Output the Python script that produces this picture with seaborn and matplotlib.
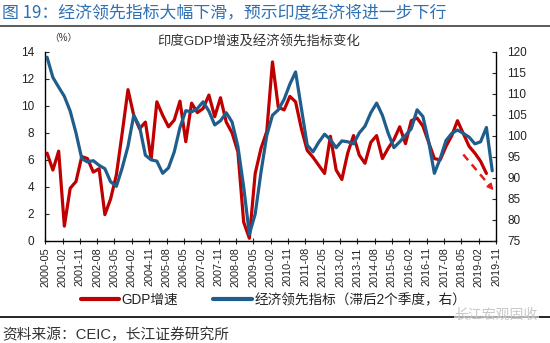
import matplotlib
matplotlib.use("Agg")
import matplotlib.pyplot as plt
import pandas as pd
import seaborn as sns
from matplotlib.lines import Line2D

# ---------------- data ----------------
gdp_growth = [6.5, 5.25, 6.65, 1.1, 3.9, 4.4, 6.25, 6.1, 5.1, 5.35,
              1.95, 3.1, 4.9, 8.0, 11.2, 9.3, 8.3, 8.8, 6.05, 10.3,
              9.3, 8.45, 8.95, 10.35, 7.35, 10.2, 9.5, 9.8, 10.8, 9.2,
              10.6, 8.8, 8.0, 6.6, 1.4, 0.2, 5.0, 6.85, 8.1, 13.25,
              9.9, 9.7, 10.7, 10.3, 8.3, 6.7, 6.2, 5.6, 5.0, 7.75,
              5.25, 4.55, 6.5, 7.8, 6.35, 5.75, 7.3, 7.8, 6.1, 6.85,
              7.5, 8.45, 7.2, 8.9, 9.1, 8.5, 7.3, 6.1, 6.0, 7.0,
              7.8, 8.9, 7.95, 7.0, 6.5, 5.9, 5.0]
leading_index = [118.7, 113.9, 111.6, 109.4, 105.9, 100.7, 94.6, 93.8, 94.1, 93.0,
                 92.2, 89.1, 88.0, 92.4, 97.5, 104.9, 102.2, 95.4, 94.3, 94.0,
                 91.1, 92.4, 96.2, 102.0, 106.0, 105.7, 106.5, 108.1, 105.9, 102.6,
                 103.6, 105.5, 103.3, 97.5, 87.9, 76.6, 81.4, 91.4, 100.1, 104.9,
                 106.2, 108.7, 112.3, 115.2, 106.5, 97.8, 96.2, 98.5, 100.4, 99.1,
                 97.2, 98.8, 98.6, 98.1, 100.7, 102.3, 105.5, 107.8, 104.9, 100.7,
                 97.2, 98.6, 100.1, 101.7, 106.2, 104.6, 98.6, 91.1, 94.6, 98.9,
                 100.6, 101.4, 100.6, 99.7, 98.1, 98.6, 102.0, 91.7]
first_obs = "2000-06-01"
tick_labels = ["2000-05", "2001-02", "2001-11", "2002-08", "2003-05", "2004-02",
               "2004-11", "2005-08", "2006-05", "2007-02", "2007-11", "2008-08",
               "2009-05", "2010-02", "2010-11", "2011-08", "2012-05", "2013-02",
               "2013-11", "2014-08", "2015-05", "2016-02", "2016-11", "2017-08",
               "2018-05", "2019-02", "2019-11"]
left_ticks = [0, 2, 4, 6, 8, 10, 12, 14]
right_ticks = [75, 80, 85, 90, 95, 100, 105, 110, 115, 120]
arrow_from = ("2018-06-01", 6.4)
arrow_to = ("2019-10-20", 3.6)

RED = "#C00000"
BLUE = "#1F5E8C"
TITLE_BLUE = "#2F70B5"

# ---------------- frames ----------------
dates_lead = pd.date_range(first_obs, periods=len(leading_index), freq="3MS")
dates_gdp = pd.date_range(first_obs, periods=len(gdp_growth), freq="3MS")
df_gdp = pd.DataFrame({"date": dates_gdp, "value": gdp_growth})
df_lead = pd.DataFrame({"date": dates_lead, "value": leading_index})
tick_dates = pd.to_datetime(tick_labels, format="%Y-%m")

sns.set_theme(style="white")
plt.rcParams["font.family"] = ["Liberation Sans", "Noto Sans CJK SC", "DejaVu Sans"]
plt.rcParams["axes.unicode_minus"] = False

fig = plt.figure(figsize=(5.5, 3.43), dpi=100)
ax = fig.add_axes([0.082, 0.2974, 0.820, 0.5516])
ax2 = ax.twinx()

sns.lineplot(data=df_gdp, x="date", y="value", ax=ax, color=RED, lw=2.3, zorder=3)
sns.lineplot(data=df_lead, x="date", y="value", ax=ax2, color=BLUE, lw=2.3, zorder=4)

# dashed forecast arrow
d0 = pd.Timestamp(arrow_from[0]); d1 = pd.Timestamp(arrow_to[0])
mid = d0 + (d1 - d0) * 0.8
ymid = arrow_from[1] + (arrow_to[1] - arrow_from[1]) * 0.8
ax.plot([d0, mid], [arrow_from[1], ymid], color="#E0201B", lw=1.8, ls=(0, (3, 2.2)), zorder=5)
ax.annotate("", xy=(d1, arrow_to[1]), xytext=(mid, ymid),
            arrowprops=dict(arrowstyle="-|>", color="#E0201B", lw=1.2, mutation_scale=9),
            zorder=5, annotation_clip=False)

ax.set_xlim(tick_dates[0], tick_dates[-1])
ax.set_ylim(0, 14)
ax2.set_ylim(75, 120)
ax.set_xticks(tick_dates)
ax.set_xticklabels(tick_labels, rotation=90, fontsize=7.8, color="#222222")
ax.set_yticks(left_ticks)
ax.set_yticklabels([str(v) for v in left_ticks], fontsize=8.5, color="#222222")
ax2.set_yticks(right_ticks)
ax2.set_yticklabels([str(v) for v in right_ticks], fontsize=8.5, color="#222222")
ax.set_xlabel(""); ax.set_ylabel(""); ax2.set_ylabel("")
ax.grid(False); ax2.grid(False)

for a in (ax, ax2):
    for s in a.spines.values():
        s.set_visible(False)
ax.spines["left"].set_visible(True)
ax.spines["bottom"].set_visible(True)
ax2.spines["right"].set_visible(True)
for s in (ax.spines["left"], ax.spines["bottom"], ax2.spines["right"]):
    s.set_color("black"); s.set_linewidth(1.0)
ax.tick_params(axis="y", direction="in", length=3, width=0.8, left=True, pad=8)
ax.tick_params(axis="x", direction="inout", length=5, width=0.8, bottom=True, pad=2)
ax2.tick_params(axis="y", direction="in", length=3, width=0.8, right=True, pad=8)

# texts
fig.text(0.004, 0.965, "图 19：经济领先指标大幅下滑，预示印度经济将进一步下行",
         fontsize=12.2, color=TITLE_BLUE, ha="left", va="center",
         family=["Noto Sans CJK SC", "DejaVu Sans"], weight="medium")
fig.add_artist(Line2D([0, 1], [1 - 26 / 343, 1 - 26 / 343], color="#404040", lw=1.2))
fig.text(0.47, 1 - 42 / 343, "印度GDP增速及经济领先指标变化", fontsize=9.6,
         color="#333333", ha="center", va="center")
fig.text(0.115, 1 - 38 / 343, "（%）", fontsize=7, color="#333333", ha="center", va="center")

handles = [Line2D([], [], color=RED, lw=3), Line2D([], [], color=BLUE, lw=3)]
fig.legend(handles, ["GDP增速", "经济领先指标（滞后2个季度，右）"],
           loc="center", bbox_to_anchor=(0.497, 1 - 300 / 343), ncol=2, frameon=False,
           fontsize=9.8, handlelength=2.8, handletextpad=0.2, columnspacing=2.6,
           labelcolor="#222222")

fig.add_artist(Line2D([0, 1], [1 - 317 / 343, 1 - 317 / 343], color="black", lw=1.2))
fig.text(0.978, 1 - 315 / 343, "长江宏观固收", fontsize=10, color="#C8C8C8",
         ha="right", va="center", zorder=10,
         bbox=dict(facecolor="white", edgecolor="none", pad=0.5, alpha=0.6))
fig.text(0.004, 1 - 335 / 343, "资料来源：CEIC，长江证券研究所", fontsize=10.6,
         color="#333333", ha="left", va="center")

fig.savefig("out.png", dpi=100, facecolor="white")
